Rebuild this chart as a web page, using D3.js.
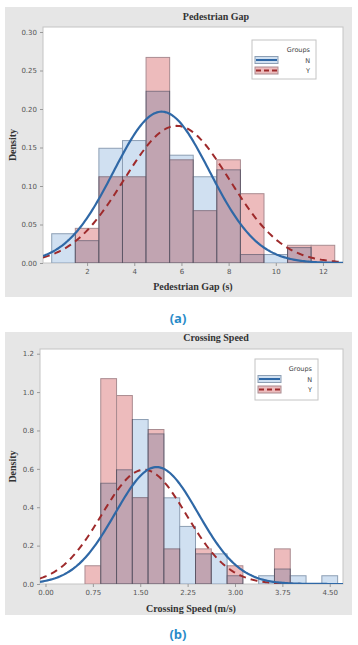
<!DOCTYPE html>
<html>
<head>
<meta charset="utf-8">
<script src="https://cdn.jsdelivr.net/npm/d3@7"></script>
<style>
html,body{margin:0;padding:0;background:#fff;}
svg{display:block;}
</style>
</head>
<body>
<svg id="chart" width="358" height="645"></svg>
<script>
// ---------- Data: Pedestrian Gap (panel a) ----------
const gapBinCenters = [1,2,3,4,5,6,7,8,9,10,11,12];
const gapBinWidth = 1;
const gapDensityN = [0.038,0.029,0.149,0.159,0.223,0.140,0.112,0.121,0.011,0.011,0.020,0];
const gapDensityY = [0,0.045,0.112,0.112,0.267,0.134,0.068,0.134,0.090,0,0.023,0.023];
const gapXTicks = [2,4,6,8,10,12];
const gapYTicks = [0,0.05,0.10,0.15,0.20,0.25,0.30];
const gapFitMean = [5.16, 5.80];   // N, Y
const gapFitSd = [2.03, 2.24];     // N, Y

// ---------- Data: Crossing Speed (panel b) ----------
const speedBinCenters = [0.75,1.0,1.25,1.5,1.75,2.0,2.25,2.5,2.75,3.0,3.25,3.5,3.75,4.0,4.25,4.5];
const speedBinWidth = 0.25;
const speedDensityN = [0,0.525,0.595,0.857,0.782,0.449,0.300,0.157,0.157,0.043,0,0.043,0.078,0.043,0,0.043];
const speedDensityY = [0.095,1.07,0.982,0.450,0.805,0.183,0,0.183,0,0.095,0,0,0.183,0,0,0];
const speedXTicks = [0,0.75,1.5,2.25,3.0,3.75,4.5];
const speedYTicks = [0,0.2,0.4,0.6,0.8,1.0,1.2];
const speedFitMean = [1.76, 1.56]; // N, Y
const speedFitSd = [0.655, 0.67];  // N, Y

const groups = ["N","Y"];

const svg = d3.select("#chart");

function normalPdf(x, m, s){ return Math.exp(-0.5*((x-m)/s)**2)/(s*Math.sqrt(2*Math.PI)); }

function panel(cfg){
  const g = svg.append("g");
  g.append("rect").attr("x",cfg.bg[0]).attr("y",cfg.bg[1]).attr("width",cfg.bg[2]).attr("height",cfg.bg[3]).attr("fill","#e6e6e6");
  const x = d3.scaleLinear().domain(cfg.xDomain).range([cfg.left, cfg.right]);
  const y = d3.scaleLinear().domain(cfg.yDomain).range([cfg.bottom, cfg.top]);
  g.append("rect").attr("x",cfg.left).attr("y",cfg.top).attr("width",cfg.right-cfg.left).attr("height",cfg.bottom-cfg.top)
    .attr("fill","#fff").attr("stroke","#c4c4c4").attr("stroke-width",1);
  const clipId = "clip"+cfg.id;
  g.append("clipPath").attr("id",clipId).append("rect").attr("x",cfg.left).attr("y",cfg.top).attr("width",cfg.right-cfg.left).attr("height",cfg.bottom-cfg.top);
  const plot = g.append("g").attr("clip-path",`url(#${clipId})`);
  const bw = cfg.binWidth;
  plot.append("g").selectAll("rect").data(cfg.centers.map((c,i)=>({c,v:cfg.dN[i]})).filter(d=>d.v>0))
    .join("rect")
    .attr("x",d=>x(d.c-bw/2)).attr("width",d=>x(d.c+bw/2)-x(d.c-bw/2))
    .attr("y",d=>y(d.v)).attr("height",d=>y(0)-y(d.v))
    .attr("fill","#d0e0f1").attr("stroke","#8d9fb4").attr("stroke-width",1);
  plot.append("g").style("mix-blend-mode","multiply").selectAll("rect").data(cfg.centers.map((c,i)=>({c,v:cfg.dY[i]})).filter(d=>d.v>0))
    .join("rect")
    .attr("x",d=>x(d.c-bw/2)).attr("width",d=>x(d.c+bw/2)-x(d.c-bw/2))
    .attr("y",d=>y(d.v)).attr("height",d=>y(0)-y(d.v))
    .attr("fill","#edbbbc").attr("stroke","#aa8c91").attr("stroke-width",1);
  const xs = d3.range(cfg.xDomain[0], cfg.xDomain[1]+1e-9, (cfg.xDomain[1]-cfg.xDomain[0])/200);
  const line = d3.line().x(d=>x(d[0])).y(d=>y(d[1]));
  plot.append("path").datum(xs.map(v=>[v, normalPdf(v,cfg.mean[1],cfg.sd[1])]))
    .attr("d",line).attr("fill","none").attr("stroke","#9e2a2b").attr("stroke-width",2).attr("stroke-dasharray","7,5");
  plot.append("path").datum(xs.map(v=>[v, normalPdf(v,cfg.mean[0],cfg.sd[0])]))
    .attr("d",line).attr("fill","none").attr("stroke","#2f68a6").attr("stroke-width",2.2);

  const xAxis = d3.axisBottom(x).tickValues(cfg.xTicks).tickFormat(cfg.xFmt).tickSize(3).tickPadding(3);
  const gx = g.append("g").attr("transform",`translate(0,${cfg.bottom})`).call(xAxis);
  const yAxis = d3.axisLeft(y).tickValues(cfg.yTicks).tickFormat(cfg.yFmt).tickSize(3).tickPadding(3);
  const gy = g.append("g").attr("transform",`translate(${cfg.left},0)`).call(yAxis);
  [gx,gy].forEach(a=>{
    a.select(".domain").remove();
    a.selectAll(".tick line").attr("stroke","#9a9a9a");
    a.selectAll(".tick text").attr("fill","#555").style("font-family","'DejaVu Sans', sans-serif").style("font-size","7px");
  });

  const serif = "'Liberation Serif','DejaVu Serif',serif";
  g.append("text").attr("x",cfg.titleX).attr("y",cfg.titleY).attr("text-anchor","middle")
    .style("font-family",serif).style("font-weight","bold").style("font-size","10px").attr("fill","#333").text(cfg.title);
  g.append("text").attr("x",cfg.xLabelX).attr("y",cfg.xLabelY).attr("text-anchor","middle")
    .style("font-family",serif).style("font-weight","bold").style("font-size","10px").attr("fill","#333").text(cfg.xLabel);
  g.append("text").attr("transform",`translate(${cfg.yLabelX},${(cfg.top+cfg.bottom)/2}) rotate(-90)`).attr("text-anchor","middle")
    .style("font-family",serif).style("font-weight","bold").style("font-size","10px").attr("fill","#333").text("Density");

  const L = cfg.legend;
  const lg = g.append("g");
  lg.append("rect").attr("x",L[0]).attr("y",L[1]).attr("width",L[2]).attr("height",L[3]).attr("fill","#fff").attr("stroke","#c4c4c4");
  const tx = L[0]+L[2]-6;
  const sans = "'DejaVu Sans',sans-serif";
  lg.append("text").attr("x",tx).attr("y",L[1]+12).attr("text-anchor","end").style("font-family",sans).style("font-size","6.5px").attr("fill","#444").text("Groups");
  groups.forEach((gname,i)=>{
    const yy = L[1]+20+i*10.5;
    lg.append("rect").attr("x",L[0]+3).attr("y",yy-3.5).attr("width",23).attr("height",7)
      .attr("fill",i===0?"#d0e0f1":"#edbbbc").attr("stroke",i===0?"#8d9fb4":"#aa8c91");
    lg.append("line").attr("x1",L[0]+4).attr("x2",L[0]+25).attr("y1",yy).attr("y2",yy)
      .attr("stroke",i===0?"#2f68a6":"#9e2a2b").attr("stroke-width",2).attr("stroke-dasharray",i===0?null:"5,3");
    lg.append("text").attr("x",tx).attr("y",yy+2.5).attr("text-anchor","end").style("font-family",sans).style("font-size","6.5px").attr("fill","#444").text(gname);
  });

  svg.append("text").attr("x",178).attr("y",cfg.capY).attr("text-anchor","middle")
    .style("font-family","'Open Sans',sans-serif").style("font-weight","bold").style("font-size","13px").attr("fill","#2a8bc9").text(cfg.caption);
}

panel({
  id:"a", bg:[5,7,347,290], left:43, right:343, top:27, bottom:263,
  xDomain:[0.13,12.85], yDomain:[0,0.3065],
  centers:gapBinCenters, binWidth:gapBinWidth, dN:gapDensityN, dY:gapDensityY,
  mean:gapFitMean, sd:gapFitSd,
  xTicks:gapXTicks, yTicks:gapYTicks, xFmt:d3.format("d"), yFmt:d3.format(".2f"),
  title:"Pedestrian Gap", titleX:216, titleY:20,
  xLabel:"Pedestrian Gap (s)", xLabelX:193, xLabelY:290, yLabelX:16,
  legend:[252,40,64,39], caption:"(a)", capY:323
});

panel({
  id:"b", bg:[5,332,347,283], left:40, right:343, top:349, bottom:584,
  xDomain:[-0.087,4.71], yDomain:[0,1.2245],
  centers:speedBinCenters, binWidth:speedBinWidth, dN:speedDensityN, dY:speedDensityY,
  mean:speedFitMean, sd:speedFitSd,
  xTicks:speedXTicks, yTicks:speedYTicks, xFmt:d3.format(".2f"), yFmt:d3.format(".1f"),
  title:"Crossing Speed", titleX:216, titleY:341,
  xLabel:"Crossing Speed (m/s)", xLabelX:191, xLabelY:612, yLabelX:16,
  legend:[255,359,63,41], caption:"(b)", capY:639
});
</script>
</body>
</html>
